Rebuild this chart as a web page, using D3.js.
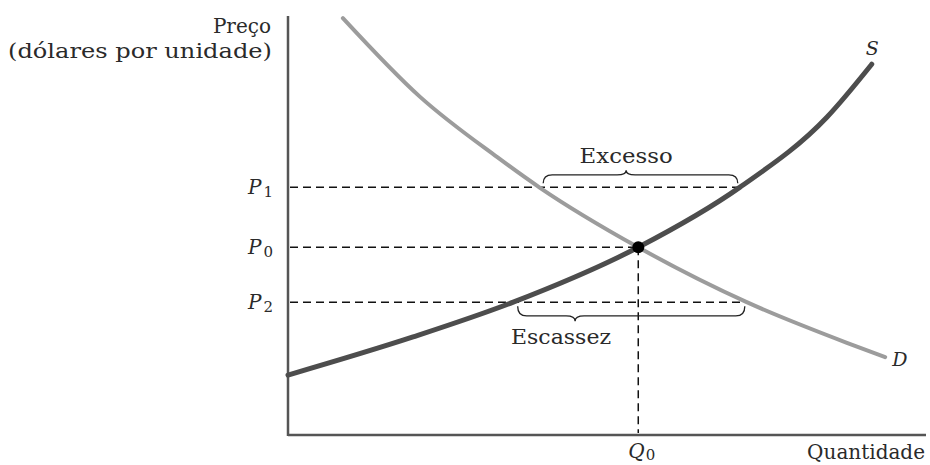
<!DOCTYPE html>
<html><head><meta charset="utf-8">
<script src="https://cdn.jsdelivr.net/npm/d3@7"></script>
<style>body{margin:0;background:#fff}svg{display:block}text{font-family:"DejaVu Serif","Liberation Serif",serif;fill:#2a2a2a}</style>
</head><body><svg id="c" width="930" height="465"></svg>
<script>
// Data (quantity, price) in abstract units
const demandQ = [0.86,2.07,3.28,3.95,5.49,7.19,8.76,9.36];
const demandP = [9.95,8.07,6.63,5.90,4.48,3.17,2.20,1.86];
const supplyQ = [0.00,1.96,3.53,5.49,7.08,8.45,9.15];
const supplyP = [1.43,2.34,3.17,4.48,5.91,7.59,8.85];
const priceLevels = [{name:"P",sub:"1",p:5.91,qEnd:7.08},{name:"P",sub:"0",p:4.48,qEnd:5.49},{name:"P",sub:"2",p:3.17,qEnd:7.19}];
const eqQ = 5.49, eqP = 4.48;
const excess = {q1:4.00,q2:7.05,qTip:5.30,label:"Excesso"};
const shortage = {q1:3.60,q2:7.16,qTip:4.50,label:"Escassez"};
const axisTitles = {y1:"Preço", y2:"(dólares por unidade)", x:"Quantidade"};

const svg = d3.select("#c");
const x = d3.scaleLinear().domain([0,10]).range([288,926]);
const y = d3.scaleLinear().domain([0,10]).range([435,16]);

// axes
svg.append("line").attr("x1",x(0)).attr("x2",x(0)).attr("y1",y(10)).attr("y2",y(0)+1).attr("stroke","#555").attr("stroke-width",2.5);
svg.append("line").attr("x1",x(0)).attr("x2",x(10)).attr("y1",y(0)).attr("y2",y(0)).attr("stroke","#555").attr("stroke-width",2.5);

// dashed guides
const dash = "8,5";
priceLevels.forEach(d=>{
  svg.append("line").attr("x1",x(0)+2).attr("x2",x(d.qEnd)).attr("y1",y(d.p)).attr("y2",y(d.p))
    .attr("stroke","#111").attr("stroke-width",1.5).attr("stroke-dasharray",dash);
  const t = svg.append("text").attr("x",x(0)-40).attr("y",y(d.p)+7).attr("font-size",20);
  t.append("tspan").attr("font-style","italic").text(d.name);
  t.append("tspan").attr("font-size",15).attr("dx",2).attr("dy",3).text(d.sub);
});
svg.append("line").attr("x1",x(eqQ)).attr("x2",x(eqQ)).attr("y1",y(eqP)).attr("y2",y(0)-2)
  .attr("stroke","#111").attr("stroke-width",1.5).attr("stroke-dasharray",dash);

// curves
const line = d3.line().x(d=>x(d[0])).y(d=>y(d[1])).curve(d3.curveMonotoneX);
const demand = demandQ.map((q,i)=>[q,demandP[i]]);
const supply = supplyQ.map((q,i)=>[q,supplyP[i]]);
svg.append("path").attr("d",line(demand)).attr("fill","none").attr("stroke","#9c9c9c").attr("stroke-width",4).attr("stroke-linecap","round");
svg.append("path").attr("d",line(supply)).attr("fill","none").attr("stroke","#4d4d4d").attr("stroke-width",5).attr("stroke-linecap","round");

// equilibrium point
svg.append("circle").attr("cx",x(eqQ)).attr("cy",y(eqP)).attr("r",6).attr("fill","#000");

// braces
function brace(x1,x2,xt,y0,dir,h){
  const ym = y0+dir*h*0.65, yt = y0+dir*h, r = 9;
  return `M${x1},${y0} Q${x1},${ym} ${x1+r},${ym} L${xt-r},${ym} Q${xt},${ym} ${xt},${yt} Q${xt},${ym} ${xt+r},${ym} L${x2-r},${ym} Q${x2},${ym} ${x2},${y0}`;
}
svg.append("path").attr("d",brace(x(excess.q1),x(excess.q2),x(excess.qTip),y(5.91)-4,-1,13))
  .attr("fill","none").attr("stroke","#222").attr("stroke-width",1.3);
svg.append("path").attr("d",brace(x(shortage.q1),x(shortage.q2),x(shortage.qTip),y(3.17)+4,1,15))
  .attr("fill","none").attr("stroke","#222").attr("stroke-width",1.3);
svg.append("text").attr("x",x(excess.qTip)).attr("y",163).attr("text-anchor","middle").attr("font-size",21)
  .attr("textLength",93).attr("lengthAdjust","spacingAndGlyphs").text(excess.label);
svg.append("text").attr("x",561).attr("y",344).attr("text-anchor","middle").attr("font-size",21)
  .attr("textLength",100).attr("lengthAdjust","spacingAndGlyphs").text(shortage.label);

// curve labels
svg.append("text").attr("x",x(supplyQ[supplyQ.length-1])-6).attr("y",55).attr("font-size",19).attr("font-style","italic").text("S");
svg.append("text").attr("x",x(demandQ[demandQ.length-1])+7).attr("y",366).attr("font-size",19).attr("font-style","italic").text("D");

// axis titles
svg.append("text").attr("x",271).attr("y",33).attr("text-anchor","end").attr("font-size",20).text(axisTitles.y1);
svg.append("text").attr("x",272).attr("y",58).attr("text-anchor","end").attr("font-size",20)
  .attr("textLength",264).attr("lengthAdjust","spacingAndGlyphs").text(axisTitles.y2);
svg.append("text").attr("x",925).attr("y",459).attr("text-anchor","end").attr("font-size",20).text(axisTitles.x);
const q0 = svg.append("text").attr("x",x(eqQ)-10).attr("y",458).attr("font-size",20);
q0.append("tspan").attr("font-style","italic").text("Q");
q0.append("tspan").attr("font-size",15).attr("dx",1).attr("dy",2).text("0");
</script></body></html>
